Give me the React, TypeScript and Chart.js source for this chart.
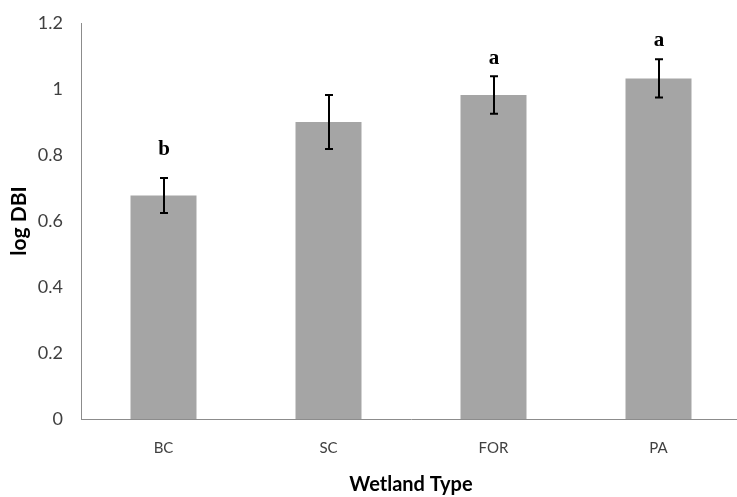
import React, { useEffect, useRef } from "react";
import { Chart, registerables } from "chart.js";

Chart.register(...registerables);

const categories = ["BC", "SC", "FOR", "PA"];
const means = [0.677, 0.9, 0.982, 1.032];
const errors = [0.053, 0.082, 0.057, 0.058];
const letters = ["b", "", "a", "a"];
const letterValues = [0.8, 0, 1.075, 1.13];
const yMin = 0;
const yMax = 1.2;
const yStep = 0.2;

const errorBarPlugin = {
  id: "errorBars",
  afterDatasetsDraw(chart: any) {
    const ctx = chart.ctx;
    const meta = chart.getDatasetMeta(0);
    const y = chart.scales.y;
    ctx.save();
    ctx.strokeStyle = "#000000";
    ctx.lineWidth = 2;
    meta.data.forEach((el: any, i: number) => {
      const x = Math.round(el.x);
      const top = y.getPixelForValue(means[i] + errors[i]);
      const bot = y.getPixelForValue(means[i] - errors[i]);
      ctx.beginPath();
      ctx.moveTo(x, top);
      ctx.lineTo(x, bot);
      ctx.moveTo(x - 4, top);
      ctx.lineTo(x + 4, top);
      ctx.moveTo(x - 4, bot);
      ctx.lineTo(x + 4, bot);
      ctx.stroke();
      if (letters[i]) {
        ctx.fillStyle = "#000000";
        ctx.font = "bold 21px 'Liberation Serif', 'DejaVu Serif', serif";
        ctx.textAlign = "center";
        ctx.textBaseline = "alphabetic";
        ctx.fillText(letters[i], x, y.getPixelForValue(letterValues[i]));
      }
    });
    ctx.restore();
  },
};

export default function App() {
  const canvasRef = useRef<HTMLCanvasElement | null>(null);

  useEffect(() => {
    if (!canvasRef.current) return;
    const chart = new Chart(canvasRef.current, {
      type: "bar",
      data: {
        labels: categories,
        datasets: [
          {
            data: means,
            backgroundColor: "#a5a5a5",
            borderWidth: 0,
            barPercentage: 0.4,
            categoryPercentage: 1,
          },
        ],
      },
      options: {
        animation: false,
        responsive: true,
        maintainAspectRatio: false,
        layout: { padding: { left: 7, top: 23, right: 4, bottom: 0 } },
        plugins: {
          legend: { display: false },
          tooltip: { enabled: false },
        },
        scales: {
          x: {
            grid: { display: false, drawTicks: false },
            border: { display: true, color: "#8c8c8c", width: 1 },
            ticks: {
              color: "#404040",
              font: { family: "Lato, 'Open Sans', sans-serif", size: 15 },
              padding: 20,
            },
            title: {
              display: true,
              text: "Wetland Type",
              color: "#000000",
              font: { family: "Lato, 'Open Sans', sans-serif", size: 20, weight: "bold" },
              padding: { top: -4, bottom: 0 },
            },
          },
          y: {
            min: yMin,
            max: yMax,
            grid: { display: false, drawTicks: false },
            border: { display: true, color: "#8c8c8c", width: 1 },
            afterFit: (scale: any) => {
              scale.paddingTop = 0;
              scale.paddingBottom = 0;
              scale.width = 74;
            },
            ticks: {
              stepSize: yStep,
              color: "#404040",
              font: { family: "Lato, 'Open Sans', sans-serif", size: 18 },
              padding: 18,
              callback: (v: any) => String(Math.round(Number(v) * 10) / 10),
            },
            title: {
              display: true,
              text: "log DBI",
              color: "#000000",
              font: { family: "Lato, 'Open Sans', sans-serif", size: 21, weight: "bold" },
              padding: { top: 0, bottom: 1 },
            },
          },
        },
      },
      plugins: [errorBarPlugin],
    });
    return () => chart.destroy();
  }, []);

  return (
    <div
      style={{
        position: "fixed",
        left: 0,
        top: 0,
        width: 737,
        height: 497,
        overflow: "hidden",
        background: "#ffffff",
      }}
    >
      <div style={{ position: "relative", width: 745, height: 497 }}>
        <canvas ref={canvasRef} />
      </div>
    </div>
  );
}
